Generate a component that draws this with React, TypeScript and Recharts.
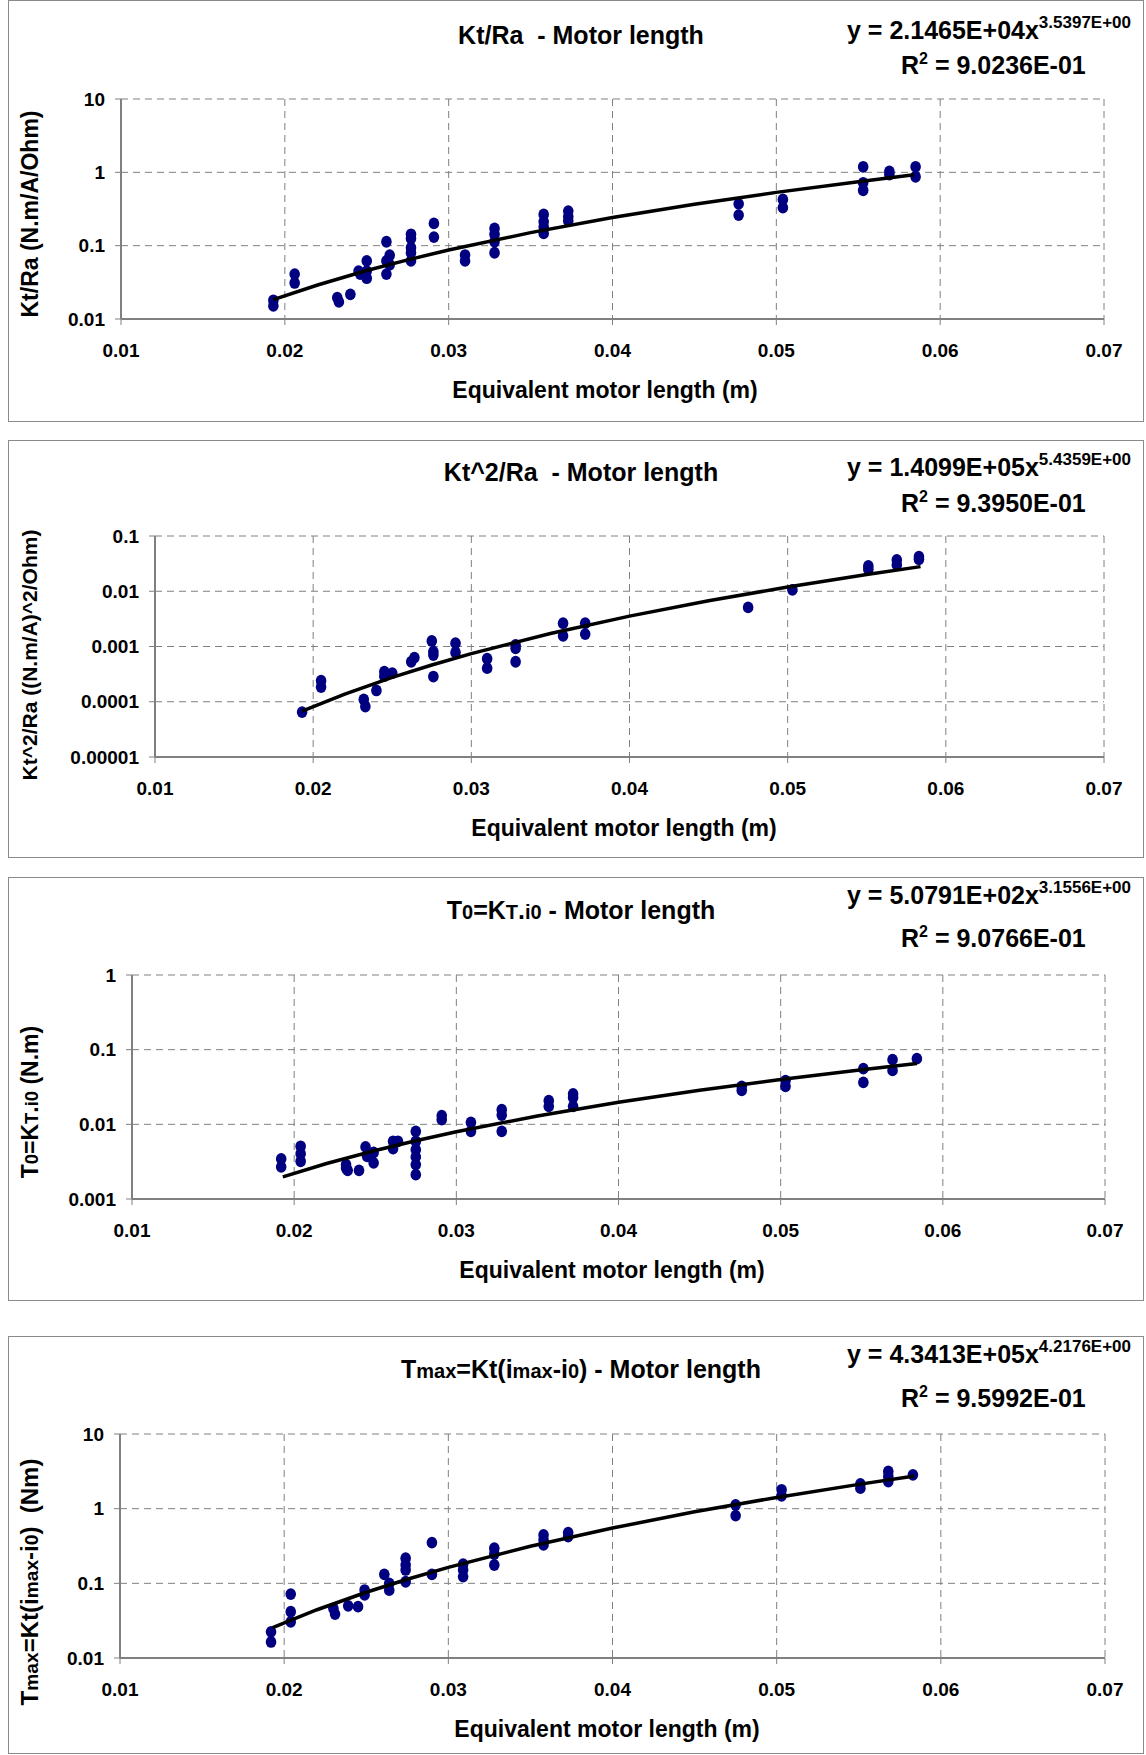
import type { ReactNode } from 'react';
import { CartesianGrid, Scatter, ScatterChart, XAxis, YAxis } from 'recharts';

const FONT = "'Liberation Sans', Arial, Helvetica, sans-serif";
const NAVY = '#000080';
const AXIS = '#808080';

const xTicks = [0.01, 0.02, 0.03, 0.04, 0.05, 0.06, 0.07];
const trendX = [0.0193, 0.022, 0.025, 0.0275, 0.03, 0.035, 0.04, 0.045, 0.05, 0.055, 0.0584];

// Kt/Ra
const ktRaTicks = [0.01, 0.1, 1, 10];
const ktRaPoints = [
  { x: 0.0193, y: 0.018 }, { x: 0.0193, y: 0.0151 },
  { x: 0.0206, y: 0.041 }, { x: 0.0206, y: 0.031 },
  { x: 0.0232, y: 0.0196 }, { x: 0.0233, y: 0.0171 },
  { x: 0.024, y: 0.0217 },
  { x: 0.0245, y: 0.045 }, { x: 0.0246, y: 0.041 }, { x: 0.025, y: 0.062 }, { x: 0.025, y: 0.036 }, { x: 0.025, y: 0.045 },
  { x: 0.0262, y: 0.113 }, { x: 0.0262, y: 0.062 }, { x: 0.0262, y: 0.041 }, { x: 0.0264, y: 0.074 }, { x: 0.0264, y: 0.055 },
  { x: 0.0277, y: 0.143 }, { x: 0.0277, y: 0.125 }, { x: 0.0277, y: 0.094 }, { x: 0.0277, y: 0.08 }, { x: 0.0277, y: 0.062 },
  { x: 0.0291, y: 0.201 }, { x: 0.0291, y: 0.131 },
  { x: 0.031, y: 0.0745 }, { x: 0.031, y: 0.062 },
  { x: 0.0328, y: 0.172 }, { x: 0.0328, y: 0.143 }, { x: 0.0328, y: 0.113 }, { x: 0.0328, y: 0.08 },
  { x: 0.0358, y: 0.267 }, { x: 0.0358, y: 0.213 }, { x: 0.0358, y: 0.18 }, { x: 0.0358, y: 0.147 },
  { x: 0.0373, y: 0.296 }, { x: 0.0373, y: 0.249 }, { x: 0.0373, y: 0.217 },
  { x: 0.0477, y: 0.372 }, { x: 0.0477, y: 0.261 },
  { x: 0.0504, y: 0.427 }, { x: 0.0504, y: 0.33 },
  { x: 0.0553, y: 1.19 }, { x: 0.0553, y: 0.72 }, { x: 0.0553, y: 0.57 },
  { x: 0.0569, y: 1.03 }, { x: 0.0569, y: 0.93 },
  { x: 0.0585, y: 1.19 }, { x: 0.0585, y: 0.87 },
];
const ktRaTrend = [0.0184, 0.0291, 0.0458, 0.064, 0.0872, 0.1506, 0.242, 0.367, 0.533, 0.746, 0.924];

// Kt^2/Ra
const kt2RaTicks = [0.00001, 0.0001, 0.001, 0.01, 0.1];
const kt2RaPoints = [
  { x: 0.0193, y: 6.5e-5 },
  { x: 0.0205, y: 2.4e-4 }, { x: 0.0205, y: 1.85e-4 },
  { x: 0.0232, y: 1.1e-4 }, { x: 0.0233, y: 8.2e-5 },
  { x: 0.024, y: 1.6e-4 },
  { x: 0.0245, y: 3.5e-4 }, { x: 0.0245, y: 2.9e-4 }, { x: 0.025, y: 3.3e-4 },
  { x: 0.0262, y: 5.3e-4 }, { x: 0.0264, y: 6.3e-4 },
  { x: 0.0275, y: 1.26e-3 }, { x: 0.0276, y: 8.1e-4 }, { x: 0.0276, y: 7.0e-4 }, { x: 0.0276, y: 2.86e-4 },
  { x: 0.029, y: 1.15e-3 }, { x: 0.029, y: 7.8e-4 },
  { x: 0.031, y: 6.0e-4 }, { x: 0.031, y: 4.05e-4 },
  { x: 0.0328, y: 1.07e-3 }, { x: 0.0328, y: 9.3e-4 }, { x: 0.0328, y: 5.3e-4 },
  { x: 0.0358, y: 2.64e-3 }, { x: 0.0358, y: 1.56e-3 },
  { x: 0.0372, y: 2.64e-3 }, { x: 0.0372, y: 1.68e-3 },
  { x: 0.0475, y: 5.1e-3 },
  { x: 0.0503, y: 0.0106 },
  { x: 0.0551, y: 0.0287 }, { x: 0.0551, y: 0.0251 },
  { x: 0.0569, y: 0.0368 }, { x: 0.0569, y: 0.03 },
  { x: 0.0583, y: 0.0423 }, { x: 0.0583, y: 0.0379 },
];
const kt2RaTrend = [6.76e-5, 1.378e-4, 2.76e-4, 4.62e-4, 7.43e-4, 1.72e-3, 3.55e-3, 6.74e-3, 0.01194, 0.0201, 0.0279];

// T0
const t0Ticks = [0.001, 0.01, 0.1, 1];
const t0Points = [
  { x: 0.0192, y: 3.44e-3 }, { x: 0.0192, y: 2.69e-3 },
  { x: 0.0204, y: 5.08e-3 }, { x: 0.0204, y: 4.05e-3 }, { x: 0.0204, y: 3.2e-3 },
  { x: 0.0232, y: 2.89e-3 }, { x: 0.0232, y: 2.6e-3 }, { x: 0.0233, y: 2.42e-3 },
  { x: 0.024, y: 2.42e-3 },
  { x: 0.0244, y: 4.98e-3 }, { x: 0.0245, y: 3.73e-3 }, { x: 0.0249, y: 4.2e-3 }, { x: 0.0249, y: 3.04e-3 },
  { x: 0.0261, y: 5.93e-3 }, { x: 0.0264, y: 5.93e-3 }, { x: 0.0261, y: 4.73e-3 },
  { x: 0.0275, y: 8.05e-3 }, { x: 0.0275, y: 5.93e-3 }, { x: 0.0275, y: 4.58e-3 },
  { x: 0.0275, y: 3.66e-3 }, { x: 0.0275, y: 2.89e-3 }, { x: 0.0275, y: 2.12e-3 },
  { x: 0.0291, y: 0.0131 }, { x: 0.0291, y: 0.01156 },
  { x: 0.0309, y: 0.0106 }, { x: 0.0309, y: 8.05e-3 },
  { x: 0.0328, y: 0.0157 }, { x: 0.0328, y: 0.0133 }, { x: 0.0328, y: 8.05e-3 },
  { x: 0.0357, y: 0.0207 }, { x: 0.0357, y: 0.0174 },
  { x: 0.0372, y: 0.0255 }, { x: 0.0372, y: 0.0229 }, { x: 0.0372, y: 0.0174 },
  { x: 0.0476, y: 0.0323 }, { x: 0.0476, y: 0.0285 },
  { x: 0.0503, y: 0.0385 }, { x: 0.0503, y: 0.0323 },
  { x: 0.0551, y: 0.0557 }, { x: 0.0551, y: 0.0365 },
  { x: 0.0569, y: 0.0735 }, { x: 0.0569, y: 0.0528 },
  { x: 0.0584, y: 0.0758 },
];
const t0Trend = [1.98e-3, 2.99e-3, 4.47e-3, 6.03e-3, 7.94e-3, 0.01295, 0.0197, 0.0286, 0.0399, 0.054, 0.0652];

// Tmax
const tmaxTicks = [0.01, 0.1, 1, 10];
const tmaxPoints = [
  { x: 0.0192, y: 0.0224 }, { x: 0.0192, y: 0.0164 },
  { x: 0.0204, y: 0.0718 }, { x: 0.0204, y: 0.0416 }, { x: 0.0204, y: 0.0305 },
  { x: 0.023, y: 0.046 }, { x: 0.0231, y: 0.0387 },
  { x: 0.0239, y: 0.05 }, { x: 0.0245, y: 0.0487 },
  { x: 0.0249, y: 0.0813 }, { x: 0.0249, y: 0.0699 },
  { x: 0.0261, y: 0.132 }, { x: 0.0264, y: 0.1 }, { x: 0.0264, y: 0.081 },
  { x: 0.0274, y: 0.217 }, { x: 0.0274, y: 0.176 }, { x: 0.0274, y: 0.151 }, { x: 0.0274, y: 0.105 },
  { x: 0.029, y: 0.351 }, { x: 0.029, y: 0.132 },
  { x: 0.0309, y: 0.18 }, { x: 0.0309, y: 0.151 }, { x: 0.0309, y: 0.123 },
  { x: 0.0328, y: 0.295 }, { x: 0.0328, y: 0.247 }, { x: 0.0328, y: 0.176 },
  { x: 0.0358, y: 0.445 }, { x: 0.0358, y: 0.381 }, { x: 0.0358, y: 0.327 },
  { x: 0.0373, y: 0.478 }, { x: 0.0373, y: 0.423 },
  { x: 0.0475, y: 1.12 }, { x: 0.0475, y: 0.807 },
  { x: 0.0503, y: 1.79 }, { x: 0.0503, y: 1.49 },
  { x: 0.0551, y: 2.15 }, { x: 0.0551, y: 1.88 },
  { x: 0.0568, y: 3.15 }, { x: 0.0568, y: 2.7 }, { x: 0.0568, y: 2.31 },
  { x: 0.0583, y: 2.84 },
];
const tmaxTrend = [0.0255, 0.0443, 0.076, 0.1134, 0.1637, 0.314, 0.55, 0.907, 1.415, 2.115, 2.73];

const Dot = (props: any) => <ellipse cx={props.cx} cy={props.cy} rx={5.3} ry={5.9} fill={NAVY} />;
const NoDot = () => <g />;

const Sm = ({ children }: { children: ReactNode }) => <span style={{ fontSize: '0.8em' }}>{children}</span>;

interface PanelProps {
  frameTop: number;
  frameBottom: number;
  plot: { left: number; right: number; top: number; bottom: number };
  ticks: number[];
  points: { x: number; y: number }[];
  trend: number[];
  title: ReactNode;
  titleY: number;
  coef: string;
  exp: string;
  eqY: number;
  r2: string;
  r2Y: number;
  yLabel: ReactNode;
  yLabelY: number;
  yLabelSize: number;
  xLabelX: number;
  xLabelY: number;
}

function Panel(p: PanelProps) {
  const h = p.frameBottom - p.frameTop;
  const trendData = trendX.map((x, i) => ({ x, y: p.trend[i] }));
  const tickStyle = { fill: '#000', fontSize: 19, fontWeight: 700, fontFamily: FONT };
  return (
    <>
      <div
        style={{
          position: 'absolute', left: 8, top: p.frameTop, width: 1134, height: h - 2,
          border: '1.5px solid #8a8a8a',
        }}
      />
      <div style={{ position: 'absolute', left: 0, top: p.frameTop }}>
        <ScatterChart
          width={1146}
          height={h}
          margin={{
            top: p.plot.top - p.frameTop,
            left: p.plot.left - 60,
            right: 1146 - p.plot.right,
            bottom: p.frameBottom - p.plot.bottom - 40,
          }}
        >
          <CartesianGrid stroke={AXIS} strokeDasharray="7 5" strokeWidth={1} />
          <XAxis
            dataKey="x"
            type="number"
            domain={[0.01, 0.07]}
            ticks={xTicks}
            allowDataOverflow
            height={40}
            tickFormatter={(v: number) => v.toFixed(2)}
            tick={tickStyle}
            tickSize={6}
            tickMargin={19}
            stroke={AXIS}
            axisLine={{ stroke: AXIS, strokeWidth: 2 }}
          />
          <YAxis
            dataKey="y"
            type="number"
            scale="log"
            domain={[p.ticks[0], p.ticks[p.ticks.length - 1]]}
            ticks={p.ticks}
            allowDataOverflow
            width={60}
            tickFormatter={(v: number) => String(v)}
            tick={tickStyle}
            tickSize={6}
            tickMargin={10}
            stroke={AXIS}
            axisLine={{ stroke: AXIS, strokeWidth: 2 }}
          />
          <Scatter data={p.points} shape={Dot} isAnimationActive={false} />
          <Scatter
            data={trendData}
            shape={NoDot}
            line={{ stroke: '#000', strokeWidth: 3.5 }}
            lineType="joint"
            isAnimationActive={false}
          />
        </ScatterChart>
      </div>
      <div
        style={{
          position: 'absolute', left: 581, top: p.titleY, transform: 'translate(-50%, -50%)',
          fontSize: 25, fontWeight: 700, whiteSpace: 'nowrap',
        }}
      >
        {p.title}
      </div>
      <div
        style={{
          position: 'absolute', left: 847, top: p.eqY, transform: 'translateY(-50%)',
          fontSize: 25, fontWeight: 700, whiteSpace: 'nowrap', lineHeight: '30px',
        }}
      >
        y = {p.coef}x
        <span style={{ fontSize: 17, position: 'relative', top: -11 }}>{p.exp}</span>
      </div>
      <div
        style={{
          position: 'absolute', left: 901, top: p.r2Y, transform: 'translateY(-50%)',
          fontSize: 25, fontWeight: 700, whiteSpace: 'nowrap', lineHeight: '30px',
        }}
      >
        R<span style={{ fontSize: 16, position: 'relative', top: -10 }}>2</span> = {p.r2}
      </div>
      <div
        style={{
          position: 'absolute', left: p.xLabelX, top: p.xLabelY, transform: 'translate(-50%, -50%)',
          fontSize: 23, fontWeight: 700, whiteSpace: 'nowrap',
        }}
      >
        Equivalent motor length (m)
      </div>
      <div
        style={{
          position: 'absolute', left: 30, top: p.yLabelY,
          transform: 'translate(-50%, -50%) rotate(-90deg)',
          fontSize: p.yLabelSize, fontWeight: 700, whiteSpace: 'nowrap',
        }}
      >
        {p.yLabel}
      </div>
    </>
  );
}

export default function App() {
  return (
    <div
      style={{
        position: 'absolute', left: 0, top: 0, width: 1146, height: 1755,
        background: '#fff', fontFamily: FONT, color: '#000',
      }}
    >
      <Panel
        frameTop={0}
        frameBottom={422}
        plot={{ left: 121, right: 1104, top: 99, bottom: 319 }}
        ticks={ktRaTicks}
        points={ktRaPoints}
        trend={ktRaTrend}
        title={<>Kt/Ra&nbsp; - Motor length</>}
        titleY={35}
        coef="2.1465E+04"
        exp="3.5397E+00"
        eqY={32}
        r2="9.0236E-01"
        r2Y={67}
        yLabel="Kt/Ra (N.m/A/Ohm)"
        yLabelY={214}
        yLabelSize={23}
        xLabelX={605}
        xLabelY={390}
      />
      <Panel
        frameTop={440}
        frameBottom={858}
        plot={{ left: 155, right: 1104, top: 536, bottom: 757 }}
        ticks={kt2RaTicks}
        points={kt2RaPoints}
        trend={kt2RaTrend}
        title={<>Kt^2/Ra&nbsp; - Motor length</>}
        titleY={472}
        coef="1.4099E+05"
        exp="5.4359E+00"
        eqY={469}
        r2="9.3950E-01"
        r2Y={505}
        yLabel="Kt^2/Ra ((N.m/A)^2/Ohm)"
        yLabelY={655}
        yLabelSize={21}
        xLabelX={624}
        xLabelY={828}
      />
      <Panel
        frameTop={877}
        frameBottom={1301}
        plot={{ left: 132, right: 1105, top: 975, bottom: 1199 }}
        ticks={t0Ticks}
        points={t0Points}
        trend={t0Trend}
        title={<>T<Sm>0</Sm>=K<Sm>T</Sm>.<Sm>i0</Sm> - Motor length</>}
        titleY={910}
        coef="5.0791E+02"
        exp="3.1556E+00"
        eqY={897}
        r2="9.0766E-01"
        r2Y={940}
        yLabel={<>T<Sm>0</Sm>=K<Sm>T</Sm>.<Sm>i0</Sm> (N.m)</>}
        yLabelY={1102}
        yLabelSize={23}
        xLabelX={612}
        xLabelY={1270}
      />
      <Panel
        frameTop={1336}
        frameBottom={1754}
        plot={{ left: 120, right: 1105, top: 1434, bottom: 1658 }}
        ticks={tmaxTicks}
        points={tmaxPoints}
        trend={tmaxTrend}
        title={<>T<Sm>max</Sm>=Kt(i<Sm>max</Sm>-i<Sm>0</Sm>) - Motor length</>}
        titleY={1369}
        coef="4.3413E+05"
        exp="4.2176E+00"
        eqY={1356}
        r2="9.5992E-01"
        r2Y={1400}
        yLabel={<>T<Sm>max</Sm>=Kt(i<Sm>max</Sm>-i<Sm>0</Sm>)&nbsp; (Nm)</>}
        yLabelY={1582}
        yLabelSize={24}
        xLabelX={607}
        xLabelY={1729}
      />
    </div>
  );
}
